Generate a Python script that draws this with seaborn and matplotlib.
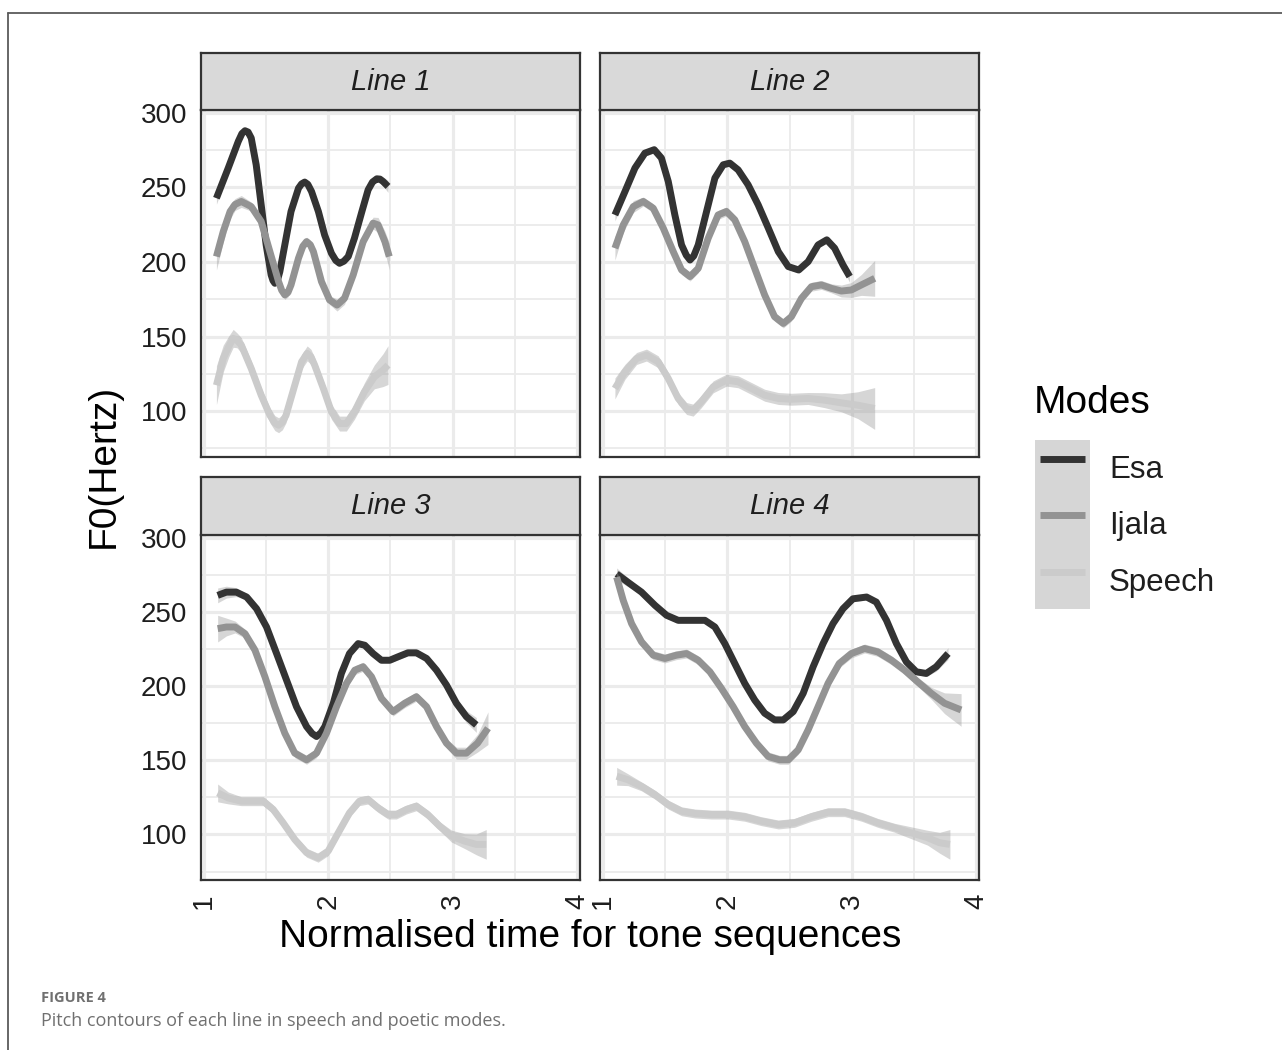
import numpy as np
import pandas as pd
import matplotlib
matplotlib.use("Agg")
import matplotlib.pyplot as plt
import seaborn as sns
from matplotlib.patches import Rectangle
from matplotlib.lines import Line2D
from matplotlib.legend_handler import HandlerTuple, HandlerLine2D

# ---------------------------------------------------------------- data
modes = ["Esa", "Ijala", "Speech"]
lines = ["Line 1", "Line 2", "Line 3", "Line 4"]
x_ticks = [1, 2, 3, 4]
y_ticks = [100, 150, 200, 250, 300]

# Line 1
l1_esa_x = [1.10, 1.195, 1.276, 1.305, 1.33, 1.355, 1.38, 1.42, 1.46, 1.50, 1.54, 1.555, 1.57, 1.59,
            1.61, 1.65, 1.70, 1.76, 1.785, 1.81, 1.835, 1.865, 1.92, 1.97, 2.025, 2.06, 2.09, 2.125,
            2.16, 2.21, 2.27, 2.32, 2.355, 2.39, 2.415, 2.44, 2.48]
l1_esa_y = [242.7, 262.9, 280.8, 286.0, 287.9, 287.0, 283.0, 265.0, 238.3, 211.4, 191.3, 187.5, 185.7, 187.5,
            193.5, 211.4, 233.8, 249.4, 252.3, 253.5, 252.0, 247.2, 233.8, 218.1, 205.8, 201.0, 199.1, 200.5,
            203.6, 215.9, 233.8, 248.3, 253.5, 255.7, 255.5, 253.9, 250.6]
l1_esa_se = [4, 3] + [2] * 33 + [3, 4]

l1_ijala_x = [1.10, 1.155, 1.21, 1.25, 1.30, 1.38, 1.46, 1.53, 1.60, 1.625, 1.65, 1.675, 1.70, 1.76,
              1.795, 1.825, 1.855, 1.88, 1.945, 2.01, 2.07, 2.13, 2.20, 2.28, 2.36, 2.40, 2.455, 2.49]
l1_ijala_y = [203.6, 220.4, 233.8, 238.5, 240.5, 237.1, 227.1, 206.9, 186.8, 181.0, 177.9, 179.5, 184.6, 202.5,
              210.5, 213.6, 211.5, 206.9, 186.8, 174.5, 171.1, 175.6, 191.3, 213.6, 226.0, 224.8, 213.6, 203.6]
l1_ijala_se = [9, 7, 5, 4, 4] + [3] * 15 + [4, 4, 4, 4, 4, 5, 7, 9]

l1_speech_x = [1.10, 1.155, 1.20, 1.235, 1.265, 1.30, 1.38, 1.46, 1.53, 1.57, 1.60, 1.63, 1.66, 1.73,
               1.785, 1.83, 1.86, 1.89, 1.96, 2.025, 2.09, 2.145, 2.21, 2.29, 2.37, 2.44, 2.48]
l1_speech_y = [117.4, 135.3, 143.5, 148.8, 147.5, 144.3, 128.6, 110.7, 97.3, 92.0, 90.6, 92.5, 97.3, 117.4,
               133.1, 138.7, 136.5, 130.9, 115.2, 99.6, 91.7, 91.7, 99.6, 113.0, 123.0, 127.5, 130.9]
l1_speech_se = [13, 9, 7, 6] + [5] * 19 + [6, 8, 11, 13]

# Line 2
l2_esa_x = [1.096, 1.177, 1.257, 1.337, 1.412, 1.47, 1.525, 1.578, 1.632, 1.67, 1.70, 1.73, 1.766, 1.833,
            1.90, 1.967, 2.02, 2.087, 2.167, 2.248, 2.33, 2.41, 2.49, 2.574, 2.65, 2.73, 2.80, 2.863,
            2.93, 2.984]
l2_esa_y = [231.5, 247.2, 262.9, 272.9, 275.2, 269.6, 253.9, 231.5, 211.4, 204.5, 201.3, 204.0, 211.4, 233.8,
            256.2, 265.1, 266.2, 261.7, 251.7, 238.3, 222.6, 206.9, 196.9, 194.6, 200.2, 211.4, 214.8, 209.2,
            198.0, 190.2]
l2_esa_se = [4, 3] + [2] * 25 + [3, 3, 4]

l2_ijala_x = [1.096, 1.163, 1.244, 1.324, 1.404, 1.485, 1.565, 1.632, 1.70, 1.766, 1.846, 1.926, 1.993, 2.06,
              2.14, 2.22, 2.30, 2.38, 2.45, 2.515, 2.596, 2.676, 2.756, 2.837, 2.917, 2.997, 3.078, 3.185]
l2_ijala_y = [209.2, 224.8, 237.1, 240.5, 236.0, 222.6, 206.9, 194.6, 190.2, 195.7, 215.9, 231.5, 233.8, 228.2,
              213.6, 195.7, 177.9, 163.3, 158.8, 163.3, 175.6, 183.4, 184.6, 182.3, 180.5, 181.2, 184.6, 189.0]
l2_ijala_se = [8, 5, 4] + [3] * 21 + [4, 5, 7, 12]

l2_speech_x = [1.096, 1.177, 1.27, 1.35, 1.444, 1.525, 1.605, 1.672, 1.725, 1.79, 1.886, 1.993, 2.087, 2.194,
               2.30, 2.41, 2.515, 2.65, 2.78, 2.917, 3.05, 3.185]
l2_speech_y = [115.2, 126.4, 135.3, 137.6, 133.1, 121.9, 108.5, 101.8, 100.7, 106.3, 116.3, 120.8, 119.7, 115.2,
               110.7, 108.5, 108.0, 108.5, 107.4, 105.6, 104.0, 101.8]
l2_speech_se = [7, 5] + [4] * 16 + [5, 6, 9, 14]

# Line 3
l3_esa_x = [1.11, 1.18, 1.26, 1.343, 1.423, 1.503, 1.584, 1.664, 1.744, 1.825, 1.87, 1.905, 1.94, 1.972,
            2.04, 2.105, 2.17, 2.24, 2.293, 2.36, 2.427, 2.494, 2.56, 2.64, 2.708, 2.79, 2.87, 2.95,
            3.03, 3.11, 3.19]
l3_esa_y = [261.1, 263.3, 263.3, 260.0, 252.1, 239.8, 221.9, 204.0, 186.1, 172.7, 168.0, 166.0, 168.5, 172.7,
            188.4, 208.5, 221.9, 228.6, 227.5, 221.9, 217.4, 217.4, 219.7, 222.4, 222.4, 218.6, 210.7, 200.7,
            188.4, 179.4, 173.8]
l3_esa_se = [5, 4, 3] + [2] * 25 + [3, 4, 5]

l3_ijala_x = [1.11, 1.18, 1.25, 1.33, 1.41, 1.49, 1.57, 1.65, 1.73, 1.825, 1.905, 1.985, 2.066, 2.146, 2.213,
              2.28, 2.347, 2.427, 2.52, 2.614, 2.708, 2.79, 2.87, 2.95, 3.03, 3.11, 3.20, 3.284]
l3_ijala_y = [238.7, 239.8, 239.8, 235.3, 224.2, 206.3, 186.1, 168.2, 154.8, 150.3, 154.8, 168.2, 186.1, 201.8, 210.7,
              213.0, 206.3, 191.7, 182.8, 188.4, 192.8, 186.1, 172.7, 161.5, 154.8, 154.8, 161.5, 171.6]
l3_ijala_se = [9, 6, 4] + [3] * 21 + [4, 4, 6, 11]

l3_speech_x = [1.11, 1.195, 1.30, 1.396, 1.477, 1.557, 1.637, 1.73, 1.825, 1.918, 1.999, 2.08, 2.17, 2.25,
               2.32, 2.40, 2.48, 2.547, 2.628, 2.708, 2.80, 2.895, 2.99, 3.096, 3.19, 3.27]
l3_speech_y = [128.0, 124.6, 122.4, 122.4, 122.4, 116.8, 107.8, 96.6, 87.7, 84.3, 88.8, 101.1, 114.5, 122.4,
               123.5, 117.9, 113.4, 113.4, 116.8, 119.0, 113.4, 105.6, 98.9, 95.5, 93.3, 93.3]
l3_speech_se = [6, 4] + [3] * 20 + [4, 5, 7, 10]

# Line 4
l4_esa_x = [1.11, 1.20, 1.31, 1.418, 1.511, 1.605, 1.712, 1.82, 1.90, 1.98, 2.06, 2.14, 2.22, 2.30, 2.38, 2.45,
            2.53, 2.61, 2.69, 2.77, 2.85, 2.93, 3.01, 3.12, 3.198, 3.28, 3.36, 3.44, 3.52, 3.60, 3.68, 3.775]
l4_esa_y = [275.6, 270.0, 263.3, 254.4, 247.7, 244.3, 244.3, 244.3, 239.8, 228.6, 215.2, 201.8, 190.6, 181.7, 177.2, 177.2,
            182.8, 195.1, 213.0, 228.6, 242.1, 252.1, 258.8, 260.0, 256.6, 244.3, 228.6, 216.3, 209.6, 208.5, 213.0, 221.9]
l4_esa_se = [4, 3] + [2] * 28 + [3, 4]

l4_ijala_x = [1.11, 1.163, 1.23, 1.31, 1.404, 1.498, 1.59, 1.672, 1.766, 1.86, 1.953, 2.047, 2.14, 2.234, 2.328,
              2.42, 2.49, 2.57, 2.65, 2.73, 2.81, 2.90, 2.997, 3.104, 3.21, 3.32, 3.426, 3.53, 3.64, 3.747, 3.88]
l4_ijala_y = [273.4, 257.7, 242.1, 229.8, 220.8, 218.6, 220.8, 221.9, 217.4, 209.6, 198.4, 186.1, 172.7, 161.5, 152.6,
              150.3, 150.3, 157.0, 170.5, 186.1, 201.8, 215.2, 221.9, 225.3, 223.0, 217.4, 210.7, 202.9, 195.1, 188.4, 183.9]
l4_ijala_se = [5, 4] + [3] * 26 + [4, 7, 11]

l4_speech_x = [1.11, 1.20, 1.31, 1.418, 1.525, 1.632, 1.74, 1.873, 2.007, 2.14, 2.27, 2.41, 2.54, 2.676, 2.81,
               2.944, 3.08, 3.21, 3.345, 3.48, 3.61, 3.707, 3.79]
l4_speech_y = [139.2, 136.9, 132.4, 126.8, 120.1, 115.6, 114.1, 113.4, 113.4, 111.9, 109.0, 106.7, 107.8, 111.9, 115.0,
               115.0, 111.9, 107.8, 104.5, 101.1, 97.8, 94.4, 93.3]
l4_speech_se = [6, 4] + [3] * 17 + [4, 5, 7, 10]

series = {
    ("Line 1", "Esa"): (l1_esa_x, l1_esa_y, l1_esa_se),
    ("Line 1", "Ijala"): (l1_ijala_x, l1_ijala_y, l1_ijala_se),
    ("Line 1", "Speech"): (l1_speech_x, l1_speech_y, l1_speech_se),
    ("Line 2", "Esa"): (l2_esa_x, l2_esa_y, l2_esa_se),
    ("Line 2", "Ijala"): (l2_ijala_x, l2_ijala_y, l2_ijala_se),
    ("Line 2", "Speech"): (l2_speech_x, l2_speech_y, l2_speech_se),
    ("Line 3", "Esa"): (l3_esa_x, l3_esa_y, l3_esa_se),
    ("Line 3", "Ijala"): (l3_ijala_x, l3_ijala_y, l3_ijala_se),
    ("Line 3", "Speech"): (l3_speech_x, l3_speech_y, l3_speech_se),
    ("Line 4", "Esa"): (l4_esa_x, l4_esa_y, l4_esa_se),
    ("Line 4", "Ijala"): (l4_ijala_x, l4_ijala_y, l4_ijala_se),
    ("Line 4", "Speech"): (l4_speech_x, l4_speech_y, l4_speech_se),
}

rows = []
for (ln, md), (xs, ys, ses) in series.items():
    for xv, yv, sv in zip(xs, ys, ses):
        rows.append({"Line": ln, "Mode": md, "time": xv, "F0": yv, "se": sv})
df = pd.DataFrame(rows)

# ---------------------------------------------------------------- style
sns.set_theme(style="white")
plt.rcParams["font.family"] = ["Liberation Sans", "DejaVu Sans"]

line_colors = {"Esa": "#333333", "Ijala": "#939393", "Speech": "#cbcbcb"}
ribbon_color = "#999999"
ribbon_alpha = 0.4
frame_color = "#333333"
grid_color = "#ebebeb"
LW = 5.0

W, H = 1282, 1050
fig = plt.figure(figsize=(W / 100, H / 100), dpi=100)


def fx(px):
    return px / W


def fy(py):
    return 1 - py / H


col_px = [(201, 580), (600, 979)]
row_px = [(110, 457), (535, 880)]
strip_px = [(53, 110), (477, 535)]

for k, ln in enumerate(lines):
    r, c = divmod(k, 2)
    l, rgt = col_px[c]
    t, b = row_px[r]
    ax = fig.add_axes([fx(l), fy(b), (rgt - l) / W, (b - t) / H])
    ax.set_facecolor("white")
    ax.set_xlim(0.976, 4.024)
    ax.set_ylim(69.3, 301.8)
    ax.set_xticks(x_ticks)
    ax.set_xticks([1.5, 2.5, 3.5], minor=True)
    ax.set_yticks(y_ticks)
    ax.set_yticks([75, 125, 175, 225, 275], minor=True)
    ax.grid(which="major", color=grid_color, lw=2.3)
    ax.grid(which="minor", color=grid_color, lw=1.3)
    ax.set_axisbelow(True)

    sub = df[df["Line"] == ln]
    for i, md in enumerate(modes):
        s = sub[sub["Mode"] == md].sort_values("time")
        ax.fill_between(s["time"], s["F0"] - s["se"], s["F0"] + s["se"],
                        color=ribbon_color, alpha=ribbon_alpha, lw=0, zorder=3 + 2 * i)
        sns.lineplot(data=s, x="time", y="F0", color=line_colors[md], lw=LW,
                     estimator=None, sort=True, legend=False, ax=ax, zorder=4 + 2 * i,
                     solid_capstyle="butt", solid_joinstyle="round")
    ax.set_xlabel("")
    ax.set_ylabel("")

    for sp in ax.spines.values():
        sp.set_visible(True)
        sp.set_color(frame_color)
        sp.set_linewidth(1.6)

    ax.set_xticklabels([str(v) for v in x_ticks])
    ax.set_yticklabels([str(v) for v in y_ticks])
    ax.tick_params(which="minor", length=0)
    ax.tick_params(which="major", length=5.8, width=1.6, color=frame_color,
                   labelsize=20, labelcolor="#1e1e1e", pad=4)
    ax.tick_params(axis="x", labelrotation=90)
    if c == 1:
        ax.tick_params(axis="y", left=False, labelleft=False)
    if r == 0:
        ax.tick_params(axis="x", bottom=False, labelbottom=False)

    st, sb = strip_px[r]
    sax = fig.add_axes([fx(l), fy(sb), (rgt - l) / W, (sb - st) / H])
    sax.set_facecolor("#d9d9d9")
    sax.set_xticks([])
    sax.set_yticks([])
    for sp in sax.spines.values():
        sp.set_visible(True)
        sp.set_color(frame_color)
        sp.set_linewidth(1.6)
    sax.text(0.5, 0.5, ln, transform=sax.transAxes, ha="center", va="center",
             fontsize=21, fontstyle="italic", color="#1e1e1e")

# axis titles
fig.text(fx(590), fy(937), "Normalised time for tone sequences",
         ha="center", va="center", fontsize=28, color="black")
fig.text(fx(104), fy(466), "F0(Hertz)", rotation=90,
         ha="center", va="center", fontsize=28, color="black")

# legend: smoother ribbon key behind each line
fig.text(fx(1034), fy(403), "Modes", ha="left", va="center", fontsize=28, color="black")
handles = [(Rectangle((0, 0), 1, 1, facecolor=ribbon_color, alpha=ribbon_alpha, edgecolor="none"),
            Line2D([], [], color=line_colors[m], lw=LW, solid_capstyle="butt")) for m in modes]
leg = fig.legend(handles, modes,
                 handler_map={tuple: HandlerTuple(ndivide=1, pad=0),
                              Line2D: HandlerLine2D(numpoints=2, marker_pad=0.16)},
                 loc="upper left", bbox_to_anchor=(fx(1035), fy(440)),
                 frameon=False, fontsize=22.5,
                 handlelength=1.75, handleheight=2.4, labelspacing=0.0,
                 handletextpad=0.62, borderpad=0.0, borderaxespad=0.0)
for txt in leg.get_texts():
    txt.set_color("#1e1e1e")

# page frame and caption
fig.add_artist(Line2D([fx(8), 1.0], [fy(13), fy(13)], color="#5a5a5a", lw=1.3))
fig.add_artist(Line2D([fx(8), fx(8)], [fy(13), 0.0], color="#5a5a5a", lw=1.3))
fig.text(fx(41), fy(998), "FIGURE 4", ha="left", va="center", fontsize=10.5,
         fontweight="bold", color="#707070", family=["Open Sans", "DejaVu Sans"])
fig.text(fx(41), fy(1021), "Pitch contours of each line in speech and poetic modes.",
         ha="left", va="center", fontsize=13, color="#707070",
         family=["Open Sans", "DejaVu Sans"])

fig.savefig("out.png", dpi=100, facecolor="white")
